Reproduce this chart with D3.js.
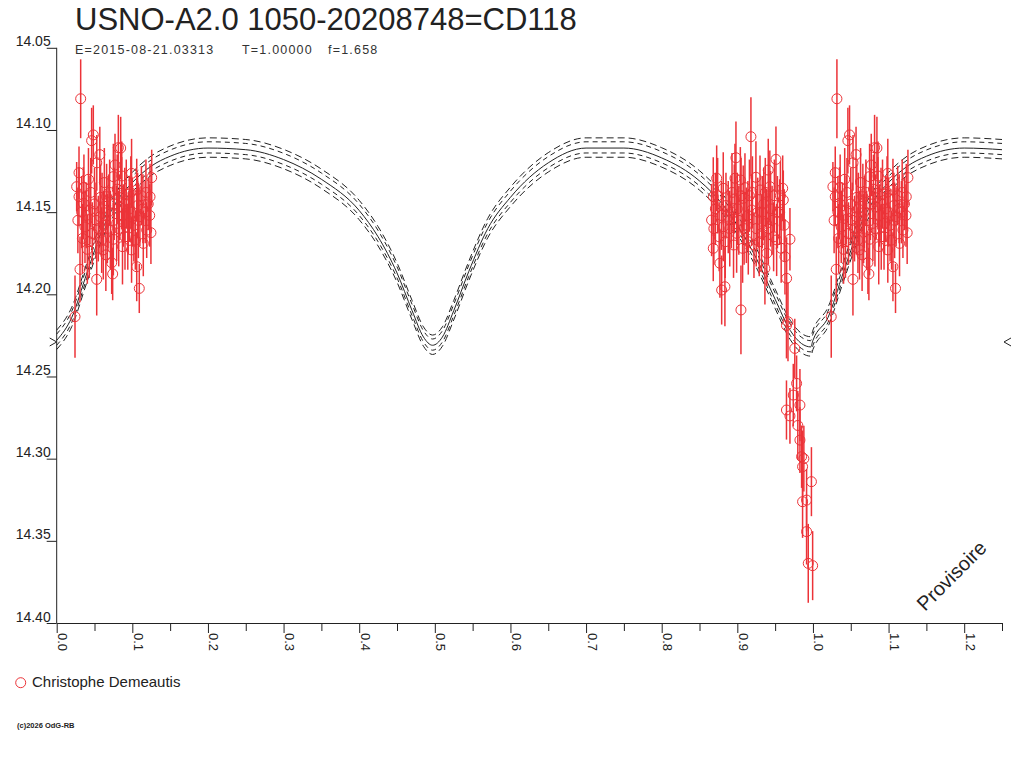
<!DOCTYPE html>
<html>
<head>
<meta charset="utf-8">
<script src="https://cdnjs.cloudflare.com/ajax/libs/d3/7.8.5/d3.min.js"></script>
<style>
  body { margin: 0; background: #fff; }
  svg { display: block; font-family: "Liberation Sans", Arial, sans-serif; }
  .axis text { fill: #222; }
  .axis line, .axis path { stroke: #222; }
</style>
</head>
<body>
<svg id="chart" width="1024" height="768"></svg>
<script>
var title = "USNO-A2.0 1050-20208748=CD118";
var subtitle = ["E=2015-08-21.03313", "T=1.00000", "f=1.658"];
var observer = "Christophe Demeautis";

// observations: phase, magnitude, error (mag)
var phases = [
  0.0317, 0.0484, 0.0462, 0.0295, 0.0264, 0.0295, 0.0815, 0.0570, 0.1256, 0.1234,
  0.1246, 0.0374, 0.0405, 0.0308, 0.0529, 0.0727, 0.0740, 0.1092, 0.0242, 0.1058,
  0.0990, 0.0749, 0.0846, 0.0530, 0.0595, 0.0440, 0.0793, 0.1100, 0.1190, 0.1145,
  0.0947, 0.0859, 0.0660, 0.0573, 0.1058, 0.0990, 0.0749, 0.0352, 0.0616, 0.0903,
  0.0771, 0.0360, 0.0420, 0.0500, 0.0550, 0.0630, 0.0680, 0.0710, 0.0830, 0.0880,
  0.0920, 0.0960, 0.1020, 0.1070, 0.1120, 0.1170, 0.1210, 0.0390, 0.0470, 0.0650,
  0.0870, 0.1040, 0.0340, 0.0800, 0.0580, 0.0330, 0.0450, 0.0520, 0.0600, 0.0670,
  0.0700, 0.0760, 0.0820, 0.0860, 0.0900, 0.0940, 0.0980, 0.1000, 0.1080, 0.1140,
  0.1180, 0.1230, 0.0280, 0.0430, 0.0620,
  0.9180, 0.8982, 0.9511, 0.8727, 0.8969, 0.9246, 0.9409, 0.9600, 0.8814, 0.9101,
  0.8682, 0.9078, 0.9608, 0.8660, 0.8814, 0.9189, 0.9388, 0.8991, 0.8682, 0.9145,
  0.9520, 0.9696, 0.8770, 0.9365, 0.9630, 0.8836, 0.8793, 0.9652, 0.9048, 0.9670,
  0.9300, 0.9430, 0.9040, 0.8880, 0.9320, 0.9650, 0.9760, 0.9784, 0.9740, 0.9828,
  0.9650, 0.9696, 0.9828, 0.9850, 0.9863, 0.9980, 0.9863, 0.9916, 0.9916, 0.9938,
  0.9996, 0.9880, 0.9800, 0.8710, 0.8760, 0.8850, 0.8920, 0.8950, 0.9020, 0.9120,
  0.9160, 0.9220, 0.9270, 0.9350, 0.9390, 0.9460, 0.9490, 0.9560, 0.9580, 0.8930,
  0.9070, 0.8690, 0.8740, 0.8790, 0.8840, 0.8900, 0.8960, 0.9000, 0.9050, 0.9090,
  0.9140, 0.9200, 0.9250, 0.9290, 0.9330, 0.9370, 0.9410, 0.9440, 0.9480, 0.9530,
  0.9570, 0.9620
];
var mags = [
  14.0810, 14.1030, 14.1065, 14.1260, 14.1345, 14.1406, 14.1108, 14.1150, 14.1290, 14.1406,
  14.1625, 14.1590, 14.1726, 14.1848, 14.1909, 14.1808, 14.1876, 14.1964, 14.2136, 14.1832,
  14.1730, 14.1665, 14.1110, 14.1200, 14.1670, 14.1487, 14.1568, 14.1528, 14.1609, 14.1690,
  14.1568, 14.1385, 14.1406, 14.1528, 14.1365, 14.1264, 14.1284, 14.1446, 14.1730, 14.1650,
  14.1213, 14.1350, 14.1300, 14.1450, 14.1600, 14.1320, 14.1500, 14.1610, 14.1470, 14.1520,
  14.1390, 14.1480, 14.1580, 14.1460, 14.1400, 14.1500, 14.1450, 14.1520, 14.1630, 14.1760,
  14.1710, 14.1670, 14.1660, 14.1360, 14.1410, 14.1500, 14.1380, 14.1550, 14.1480, 14.1600,
  14.1380, 14.1450, 14.1600, 14.1280, 14.1450, 14.1650, 14.1380, 14.1500, 14.1550, 14.1480,
  14.1380, 14.1520, 14.1550, 14.1680, 14.1580,
  14.1041, 14.1169, 14.1179, 14.1294, 14.1294, 14.1288, 14.1244, 14.1355, 14.1355, 14.1351,
  14.1406, 14.1416, 14.1426, 14.1548, 14.1589, 14.1487, 14.1568, 14.1629, 14.1720, 14.1680,
  14.1669, 14.1665, 14.1811, 14.1842, 14.1771, 14.1954, 14.1974, 14.1903, 14.2095, 14.2167,
  14.1365, 14.1345, 14.1304, 14.1530, 14.1630, 14.2190, 14.2329, 14.2542, 14.2613, 14.2674,
  14.2704, 14.2740, 14.2887, 14.2988, 14.3049, 14.3140, 14.3262, 14.3252, 14.3444, 14.3637,
  14.3651, 14.3000, 14.2798, 14.1480, 14.1650, 14.1460, 14.1500, 14.1700, 14.1550, 14.1580,
  14.1400, 14.1700, 14.1500, 14.1450, 14.1750, 14.1550, 14.1400, 14.1500, 14.1720, 14.1380,
  14.1720, 14.1600, 14.1400, 14.1520, 14.1680, 14.1600, 14.1420, 14.1480, 14.1400, 14.1600,
  14.1520, 14.1380, 14.1600, 14.1680, 14.1500, 14.1380, 14.1600, 14.1480, 14.1650, 14.1500,
  14.1400, 14.1580
];
var errs = [
  0.024, 0.018, 0.020, 0.016, 0.015, 0.018, 0.020, 0.017, 0.017, 0.020,
  0.019, 0.022, 0.021, 0.020, 0.022, 0.019, 0.016, 0.015, 0.025, 0.021,
  0.020, 0.022, 0.019, 0.017, 0.020, 0.021, 0.023, 0.018, 0.017, 0.020,
  0.019, 0.022, 0.020, 0.023, 0.019, 0.021, 0.020, 0.022, 0.018, 0.020,
  0.019, 0.020, 0.019, 0.022, 0.020, 0.021, 0.022, 0.024, 0.020, 0.019,
  0.021, 0.020, 0.022, 0.020, 0.018, 0.019, 0.016, 0.020, 0.019, 0.022,
  0.023, 0.018, 0.021, 0.021, 0.020, 0.022, 0.021, 0.023, 0.022, 0.021,
  0.020, 0.022, 0.023, 0.021, 0.022, 0.020, 0.022, 0.021, 0.023, 0.021,
  0.020, 0.019, 0.020, 0.022, 0.021,
  0.024, 0.022, 0.020, 0.020, 0.021, 0.022, 0.019, 0.020, 0.022, 0.021,
  0.024, 0.020, 0.018, 0.022, 0.021, 0.022, 0.021, 0.024, 0.020, 0.020,
  0.022, 0.019, 0.021, 0.022, 0.023, 0.024, 0.021, 0.025, 0.027, 0.024,
  0.021, 0.022, 0.020, 0.022, 0.023, 0.020, 0.018, 0.017, 0.019, 0.022,
  0.018, 0.017, 0.020, 0.019, 0.022, 0.021, 0.022, 0.019, 0.020, 0.024,
  0.021, 0.020, 0.021, 0.022, 0.021, 0.020, 0.022, 0.020, 0.021, 0.023,
  0.022, 0.020, 0.021, 0.022, 0.020, 0.021, 0.022, 0.020, 0.021, 0.024,
  0.021, 0.022, 0.023, 0.021, 0.022, 0.023, 0.021, 0.022, 0.023, 0.022,
  0.021, 0.022, 0.023, 0.021, 0.022, 0.021, 0.022, 0.023, 0.021, 0.022,
  0.021, 0.022
];

// fitted light curve, one cycle
var modelPhase = [0.000, 0.020, 0.040, 0.060, 0.080, 0.100, 0.125, 0.150, 0.200, 0.250,
                  0.300, 0.350, 0.400, 0.425, 0.450, 0.470, 0.485, 0.497, 0.510, 0.525,
                  0.545, 0.570, 0.600, 0.650, 0.700, 0.750, 0.800, 0.850, 0.880, 0.900,
                  0.925, 0.950, 0.970, 0.985, 0.997];
var modelMag = [14.228, 14.214, 14.187, 14.161, 14.143, 14.132, 14.122, 14.116, 14.111, 14.112,
                14.118, 14.130, 14.149, 14.165, 14.187, 14.210, 14.226, 14.231, 14.226, 14.210,
                14.186, 14.160, 14.141, 14.120, 14.111, 14.111, 14.117, 14.131, 14.145, 14.158,
                14.178, 14.203, 14.222, 14.230, 14.232];
// band curves (mag offsets); 0 = solid
var bandOffsets = [-0.0062, -0.0038, 0, 0.0030, 0.0056];
var minMag = 14.229;

var xTicks = d3.range(0, 26).map(function(i) { return i * 0.05; });
var yTicks = [14.05, 14.10, 14.15, 14.20, 14.25, 14.30, 14.35, 14.40];

var red = "#ec3338";
var ink = "#222";

var svg = d3.select("#chart");

var x = d3.scaleLinear().domain([0, 1.25]).range([56.7, 1002]);
var y = d3.scaleLinear().domain([14.05, 14.40]).range([47.8, 623]);

// title
svg.append("text")
   .attr("x", 75).attr("y", 30)
   .attr("font-size", "31px")
   .attr("fill", ink)
   .text(title);

var subX = [75, 242, 328];
subtitle.forEach(function(s, i) {
  svg.append("text")
     .attr("x", subX[i]).attr("y", 54)
     .attr("font-size", "12.5px")
     .attr("letter-spacing", "1.2px")
     .attr("fill", "#333")
     .text(s);
});

// y axis
var yAxis = d3.axisLeft(y).tickValues(yTicks).tickSize(10).tickSizeOuter(0)
              .tickFormat(d3.format(".2f"));
var gy = svg.append("g").attr("class", "axis")
            .attr("transform", "translate(" + x(0) + ",0)")
            .call(yAxis);
gy.select(".domain").remove();
gy.selectAll("text")
  .attr("x", -6).attr("dy", "-2px")
  .attr("font-size", "14px")
  .attr("font-family", "Liberation Sans, Arial, sans-serif");
svg.append("line")
   .attr("x1", x(0)).attr("x2", x(0))
   .attr("y1", y(14.05)).attr("y2", y(14.40))
   .attr("stroke", ink);

// x axis
var xAxis = d3.axisBottom(x).tickValues(xTicks).tickSize(8).tickSizeOuter(0)
              .tickFormat(function(d, i) { return i % 2 === 0 ? d.toFixed(1) : ""; });
var gx = svg.append("g").attr("class", "axis")
            .attr("transform", "translate(0," + y(14.40) + ")")
            .call(xAxis);
gx.selectAll(".tick line").attr("y2", function(d, i) { return i % 2 === 0 ? 10 : 8; });
gx.selectAll("text")
  .attr("x", 0).attr("y", 0).attr("dy", 0)
  .attr("text-anchor", "start")
  .attr("transform", "translate(1,10) rotate(90)")
  .attr("font-size", "13px")
  .attr("font-family", "Liberation Sans, Arial, sans-serif");

// model curves
var model = modelPhase.map(function(p, i) { return [p, modelMag[i]]; });
var extra = modelPhase.filter(function(p) { return p <= 0.26; })
                      .map(function(p) { return [p + 1, modelMag[modelPhase.indexOf(p)]]; });
var fullModel = model.concat(extra);

var line = d3.line().curve(d3.curveMonotoneX);

bandOffsets.forEach(function(off) {
  svg.append("path")
     .attr("d", line(fullModel.map(function(d) { return [x(d[0]), y(d[1] + off)]; })))
     .attr("fill", "none")
     .attr("stroke", ink)
     .attr("stroke-width", 1)
     .attr("stroke-dasharray", off === 0 ? null : (Math.abs(off) > 0.005 ? "7,4" : "5,4"));
});

// minimum markers
svg.append("path")
   .attr("d", "M" + (x(0) - 7) + "," + (y(minMag) - 4) + "L" + x(0) + "," + y(minMag) + "L" + (x(0) - 7) + "," + (y(minMag) + 4))
   .attr("fill", "none").attr("stroke", ink);
svg.append("path")
   .attr("d", "M" + (x(1.25) + 9) + "," + (y(minMag) - 4) + "L" + (x(1.25) + 2) + "," + y(minMag) + "L" + (x(1.25) + 9) + "," + (y(minMag) + 4))
   .attr("fill", "none").attr("stroke", ink);

// observations (phases below 0.25 repeated one cycle later)
var obs = [];
phases.forEach(function(p, i) {
  obs.push({ p: p, m: mags[i], e: errs[i] });
  if (p < 0.25) obs.push({ p: p + 1, m: mags[i], e: errs[i] });
});

svg.append("g").selectAll("line")
   .data(obs).enter().append("line")
   .attr("x1", function(d) { return x(d.p); })
   .attr("x2", function(d) { return x(d.p); })
   .attr("y1", function(d) { return y(d.m - d.e); })
   .attr("y2", function(d) { return y(d.m + d.e); })
   .attr("stroke", red)
   .attr("stroke-width", 1.5);

svg.append("g").selectAll("circle")
   .data(obs).enter().append("circle")
   .attr("cx", function(d) { return x(d.p); })
   .attr("cy", function(d) { return y(d.m); })
   .attr("r", 5)
   .attr("fill", "none")
   .attr("stroke", red)
   .attr("stroke-width", 1);

// watermark
svg.append("text")
   .attr("transform", "translate(925,612) rotate(-45)")
   .attr("font-size", "20px")
   .attr("fill", ink)
   .text("Provisoire");

// legend
svg.append("circle")
   .attr("cx", 20.7).attr("cy", 682.7).attr("r", 5)
   .attr("fill", "none").attr("stroke", red);
svg.append("text")
   .attr("x", 32).attr("y", 687)
   .attr("font-size", "15px")
   .attr("fill", ink)
   .text(observer);

svg.append("text")
   .attr("x", 17).attr("y", 728)
   .attr("font-size", "7.5px")
   .attr("font-weight", "bold")
   .attr("fill", ink)
   .text("(c)2026 OdG-RB");
</script>
</body>
</html>
